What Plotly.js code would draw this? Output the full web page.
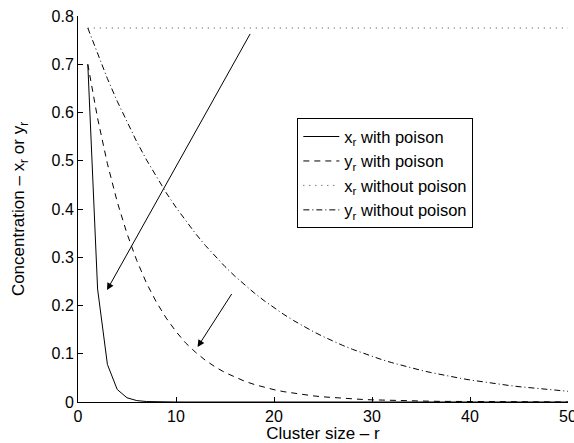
<!DOCTYPE html>
<html>
<head>
<meta charset="utf-8">
<script src="https://cdn.plot.ly/plotly-3.0.1.min.js"></script>
<style>html,body{margin:0;padding:0;background:#fff;}#chart{width:574px;height:443px;}</style>
</head>
<body>
<div id="chart"></div>
<script>
// Cluster size r = 1..50
const clusterSize = [1,2,3,4,5,6,7,8,9,10,11,12,13,14,15,16,17,18,19,20,21,22,23,24,25,26,27,28,29,30,31,32,33,34,35,36,37,38,39,40,41,42,43,44,45,46,47,48,49,50];

// x_r with poison (solid)
const xWithPoison = [0.700,0.234,0.078,0.026,0.0087,0.0029,0.00096,0.00032,0.00011,0.00004,0,0,0,0,0,0,0,0,0,0,0,0,0,0,0,0,0,0,0,0,0,0,0,0,0,0,0,0,0,0,0,0,0,0,0,0,0,0,0,0];

// y_r with poison (dashed)
const yWithPoison = [0.700,0.588,0.494,0.415,0.349,0.293,0.246,0.207,0.174,0.146,0.122,0.103,0.0865,0.0727,0.0610,0.0513,0.0431,0.0362,0.0304,0.0255,0.0214,0.0180,0.0151,0.0127,0.0107,0.0090,0.0075,0.0063,0.0053,0.0045,0.0038,0.0032,0.0027,0.0022,0.0019,0.0016,0.0013,0.0011,0.0009,0.0008,0.0007,0.0006,0.0005,0.0004,0.0003,0.0003,0.0002,0.0002,0.0002,0.0001];

// x_r without poison (dotted)
const xWithoutPoison = [0.775,0.775,0.775,0.775,0.775,0.775,0.775,0.775,0.775,0.775,0.775,0.775,0.775,0.775,0.775,0.775,0.775,0.775,0.775,0.775,0.775,0.775,0.775,0.775,0.775,0.775,0.775,0.775,0.775,0.775,0.775,0.775,0.775,0.775,0.775,0.775,0.775,0.775,0.775,0.775,0.775,0.775,0.775,0.775,0.775,0.775,0.775,0.775,0.775,0.775];

// y_r without poison (dash-dot)
const yWithoutPoison = [0.775,0.7208,0.6703,0.6234,0.5797,0.5392,0.5014,0.4663,0.4337,0.4033,0.3751,0.3488,0.3244,0.3017,0.2806,0.2609,0.2427,0.2257,0.2099,0.1952,0.1815,0.1688,0.1570,0.1460,0.1358,0.1263,0.1174,0.1092,0.1016,0.0945,0.0878,0.0817,0.0760,0.0707,0.0657,0.0611,0.0568,0.0529,0.0492,0.0457,0.0425,0.0396,0.0368,0.0342,0.0318,0.0296,0.0275,0.0256,0.0238,0.0222];

const seriesNames = ['x<sub>r</sub> with poison','y<sub>r</sub> with poison','x<sub>r</sub> without poison','y<sub>r</sub> without poison'];

// Arrows: [tailX, tailY, headX, headY]
const arrow1 = [17.65, 0.766, 2.96, 0.232];
const arrow2 = [15.78, 0.227, 12.2, 0.114];

const xTicks = [0,10,20,30,40,50];
const yTicks = [0,0.1,0.2,0.3,0.4,0.5,0.6,0.7,0.8];

const FONT = 'Liberation Sans, Arial, Helvetica, sans-serif';

const traces = [
  {x: clusterSize, y: xWithPoison, name: seriesNames[0], mode: 'lines', line: {color: '#000', width: 1}},
  {x: clusterSize, y: yWithPoison, name: seriesNames[1], mode: 'lines', line: {color: '#000', width: 1, dash: '6px,5px'}},
  {x: clusterSize, y: xWithoutPoison, name: seriesNames[2], mode: 'lines', line: {color: '#444', width: 1, dash: '1px,5px'}},
  {x: clusterSize, y: yWithoutPoison, name: seriesNames[3], mode: 'lines', line: {color: '#000', width: 1, dash: '6px,3px,1px,3px'}}
];

function arrowAnn(a) {
  return {x: a[2], y: a[3], ax: a[0], ay: a[1], xref: 'x', yref: 'y', axref: 'x', ayref: 'y',
    text: '', showarrow: true, arrowhead: 2, arrowsize: 1.4, arrowwidth: 1, arrowcolor: '#000'};
}

const layout = {
  width: 574, height: 443,
  margin: {l: 78, r: 6, t: 16, b: 41, pad: 0},
  paper_bgcolor: '#fff', plot_bgcolor: '#fff',
  font: {family: FONT, size: 16, color: '#000'},
  showlegend: true,
  legend: {x: 0.4476, y: 0.735, xanchor: 'left', yanchor: 'top', bgcolor: '#fff',
    bordercolor: '#000', borderwidth: 1, font: {family: FONT, size: 16.5, color: '#000'},
    tracegroupgap: 0, itemwidth: 36},
  xaxis: {range: [0, 50], tickmode: 'array', tickvals: xTicks, ticktext: xTicks.map(String),
    ticks: 'inside', ticklen: 5, tickcolor: '#000', showline: true, linecolor: '#000', linewidth: 1,
    showgrid: false, zeroline: false, mirror: false, ticklabeloverflow: 'allow',
    tickfont: {family: FONT, size: 16},
    title: {text: 'Cluster size \u2013 r', font: {family: FONT, size: 17}, standoff: 0}},
  yaxis: {range: [0, 0.8], tickmode: 'array', tickvals: yTicks, ticktext: yTicks.map(String),
    ticks: 'inside', ticklen: 5, tickcolor: '#000', showline: true, linecolor: '#000', linewidth: 1,
    showgrid: false, zeroline: false, mirror: false,
    tickfont: {family: FONT, size: 16},
    title: {text: 'Concentration \u2013 x<sub>r</sub> or y<sub>r</sub>', font: {family: FONT, size: 17}, standoff: 22}},
  annotations: [arrowAnn(arrow1), arrowAnn(arrow2)]
};

Plotly.newPlot('chart', traces, layout, {displayModeBar: false, staticPlot: true});
</script>
</body>
</html>
